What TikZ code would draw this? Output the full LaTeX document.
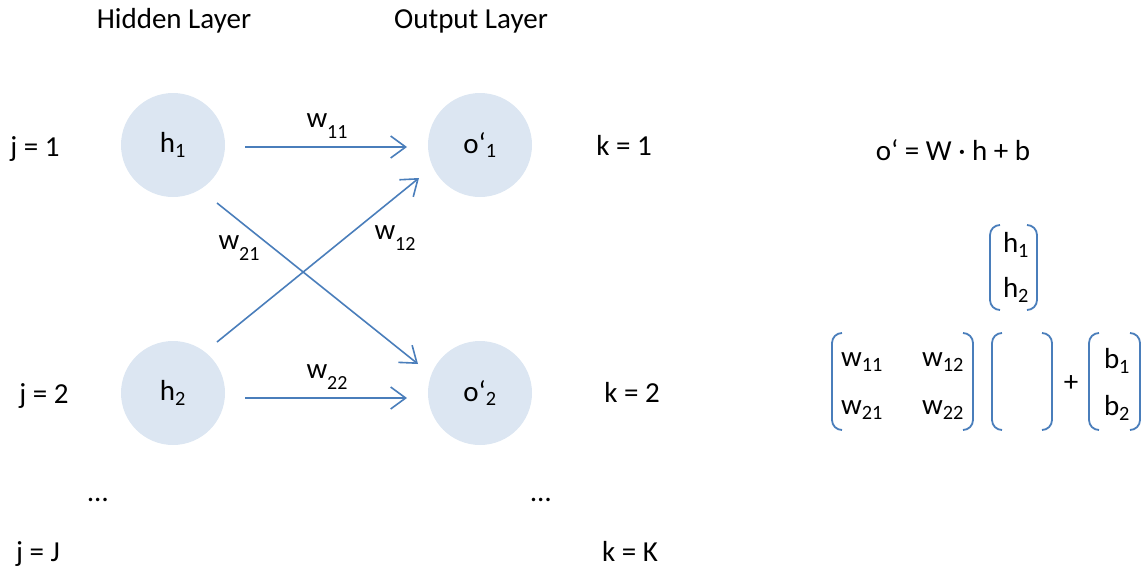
\documentclass[tikz,border=0pt]{standalone}
\usepackage{fontspec}
\setmainfont{Carlito}
\usetikzlibrary{arrows.meta}

\definecolor{cellfill}{HTML}{DCE6F2}
\definecolor{linkblue}{HTML}{4A7EBB}
\newcommand{\wlab}[1]{w\raisebox{-11pt}{\fontsize{20}{20}\selectfont #1}}

\begin{document}
\begin{tikzpicture}[x=1pt,y=-1pt,font=\fontsize{29}{34}\selectfont]
  \tikzset{neuron/.style={circle,fill=cellfill,minimum size=104pt,inner sep=0pt},
    link/.style={linkblue,line width=1.6pt,-{Straight Barb[length=15pt,width=22pt]}},
    brk/.style={linkblue,line width=1.8pt,rounded corners=10pt},
    lbl/.style={anchor=base,inner sep=1pt}}
  \useasboundingbox (0,0) rectangle (1147,568);

  \node[lbl] (hidden) at (174,28) {Hidden Layer};
  \node[lbl] (output) at (471,28) {Output Layer};

  \node[neuron] (h1) at (173,145) {h\textsubscript{1}};
  \node[neuron] (h2) at (173,393) {h\textsubscript{2}};
  \node[neuron] (o1) at (480,145) {o‘\textsubscript{1}};
  \node[neuron] (o2) at (480,393) {o‘\textsubscript{2}};

  \draw[link] ([shift={(72,2)}]h1.center) -- ([shift={(-73,2)}]o1.center);
  \draw[link] ([shift={(72,5)}]h2.center) -- ([shift={(-73,5)}]o2.center);
  \draw[link] ([shift={(44,58)}]h1.center) -- ([shift={(-62,-29)}]o2.center);
  \draw[link] ([shift={(44,-51)}]h2.center) -- ([shift={(-61,33)}]o1.center);

  \node (w11) at (327,126) {\wlab{11}};
  \node (w22) at (327,377) {\wlab{22}};
  \node (w21) at (239,248) {\wlab{21}};
  \node (w12) at (395,238) {\wlab{12}};

  \node[lbl] (j1) at (35,156) {j = 1};
  \node[lbl] (j2) at (44,403) {j = 2};
  \node[lbl] (jJ) at (38,561) {j = J};
  \node[lbl] (k1) at (624,155) {k = 1};
  \node[lbl] (k2) at (632,402) {k = 2};
  \node[lbl] (kK) at (630,561) {k = K};
  \node (hdots) at (98,500) {…};
  \node (odots) at (541,500) {…};

  \node[lbl] (eq) at (953,160) {o‘ = W · h + b};

  % vectors and matrix
  \node (vh1) at (1016,245) {h\textsubscript{1}};
  \node (vh2) at (1016,290) {h\textsubscript{2}};
  \node (m11) at (862,362) {w\textsubscript{11}};
  \node (m12) at (943,362) {w\textsubscript{12}};
  \node (m21) at (862,410) {w\textsubscript{21}};
  \node (m22) at (943,410) {w\textsubscript{22}};
  \node (plus) at (1071,384) {+};
  \node (b1) at (1117,361) {b\textsubscript{1}};
  \node (b2) at (1117,408) {b\textsubscript{2}};

  \foreach \l/\r/\t/\b in {990/1037/225/310, 832/973/333/430, 992/1052/333/430, 1089/1140/333/430}{
    \draw[brk] (\l+10,\t) -- (\l,\t) -- (\l,\b) -- (\l+10,\b);
    \draw[brk] (\r-10,\t) -- (\r,\t) -- (\r,\b) -- (\r-10,\b);
  }
\end{tikzpicture}
\end{document}
